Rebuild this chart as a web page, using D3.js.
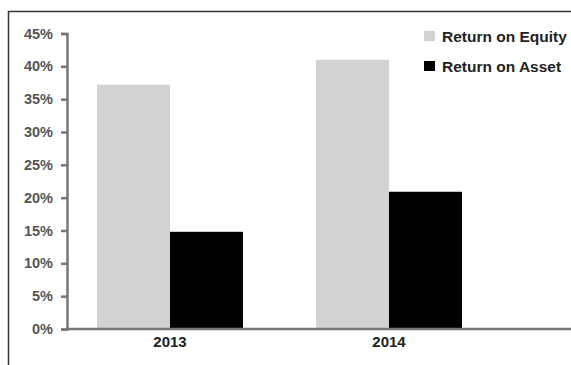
<!DOCTYPE html>
<html>
<head>
<meta charset="utf-8">
<script src="https://cdn.jsdelivr.net/npm/d3@7"></script>
<style>
  body { margin: 0; background: #fff; }
  text { font-family: "Liberation Sans", Arial, sans-serif; }
</style>
</head>
<body>
<div id="chart"></div>
<script>
var width = 571, height = 365;

// data
var years = ["2013", "2014"];
var series = ["Return on Equity", "Return on Asset"];
var roe = [37.2, 41.0];
var roa = [14.8, 20.9];
var yTicks = [0, 5, 10, 15, 20, 25, 30, 35, 40, 45];
var colors = ["#d1d2d4", "#000000"];

var svg = d3.select("#chart")
  .append("svg")
  .attr("width", width)
  .attr("height", height);

// frame (runs off the right and bottom)
svg.append("path")
  .attr("d", "M8.5,372V11.5H580")
  .attr("fill", "none")
  .attr("stroke", "#333")
  .attr("stroke-width", 1.5);

var y = d3.scaleLinear().domain([0, 45]).range([329, 33.5]);

var x0 = d3.scaleBand().domain(years).range([60.5, 498.5]);
var x1 = d3.scaleBand().domain(series).range([0, x0.bandwidth()]).paddingOuter(0.5);

var rows = years.map(function(yr, i) {
  return {year: yr, values: [roe[i], roa[i]]};
});

var groups = svg.selectAll(".yr")
  .data(rows)
  .enter()
  .append("g")
  .attr("class", "yr")
  .attr("transform", function(d) { return "translate(" + x0(d.year) + ",0)"; });

groups.selectAll("rect")
  .data(function(d) { return d.values.map(function(v, j) { return {s: series[j], v: v, j: j}; }); })
  .enter()
  .append("rect")
  .attr("x", function(d) { return x1(d.s); })
  .attr("y", function(d) { return y(d.v); })
  .attr("width", x1.bandwidth())
  .attr("height", function(d) { return y(0) - y(d.v); })
  .attr("fill", function(d) { return colors[d.j]; });

// y axis
var yAxis = svg.append("g")
  .attr("transform", "translate(67,0)")
  .call(d3.axisLeft(y).tickValues(yTicks).tickSize(6).tickPadding(8)
    .tickFormat(function(d) { return d + "%"; }));

yAxis.selectAll("path, line")
  .attr("stroke", "#777")
  .attr("stroke-width", 2.5);
yAxis.selectAll("text")
  .attr("fill", "#555")
  .attr("font-size", "14.5px")
  .attr("font-weight", "bold")
  .attr("font-family", "'Liberation Sans', Arial, sans-serif");

// x baseline
svg.append("line")
  .attr("x1", 66)
  .attr("x2", width)
  .attr("y1", y(0))
  .attr("y2", y(0))
  .attr("stroke", "#777")
  .attr("stroke-width", 2.5);

var xAxis = svg.append("g")
  .attr("transform", "translate(0," + y(0) + ")")
  .call(d3.axisBottom(x0).tickSize(0).tickPadding(7));
xAxis.select(".domain").remove();
xAxis.selectAll("text")
  .attr("fill", "#222")
  .attr("font-size", "15px")
  .attr("font-weight", "bold")
  .attr("font-family", "'Liberation Sans', Arial, sans-serif");

// legend
var legend = svg.selectAll(".legend")
  .data(series)
  .enter()
  .append("g")
  .attr("class", "legend")
  .attr("transform", function(d, i) { return "translate(424," + (31 + i * 30) + ")"; });

legend.append("rect")
  .attr("width", 11)
  .attr("height", 10)
  .attr("fill", function(d, i) { return colors[i]; });

legend.append("text")
  .text(function(d) { return d; })
  .attr("x", 18)
  .attr("y", 10.5)
  .attr("font-size", "15.5px")
  .attr("font-weight", "bold")
  .attr("fill", "#222");
</script>
</body>
</html>
